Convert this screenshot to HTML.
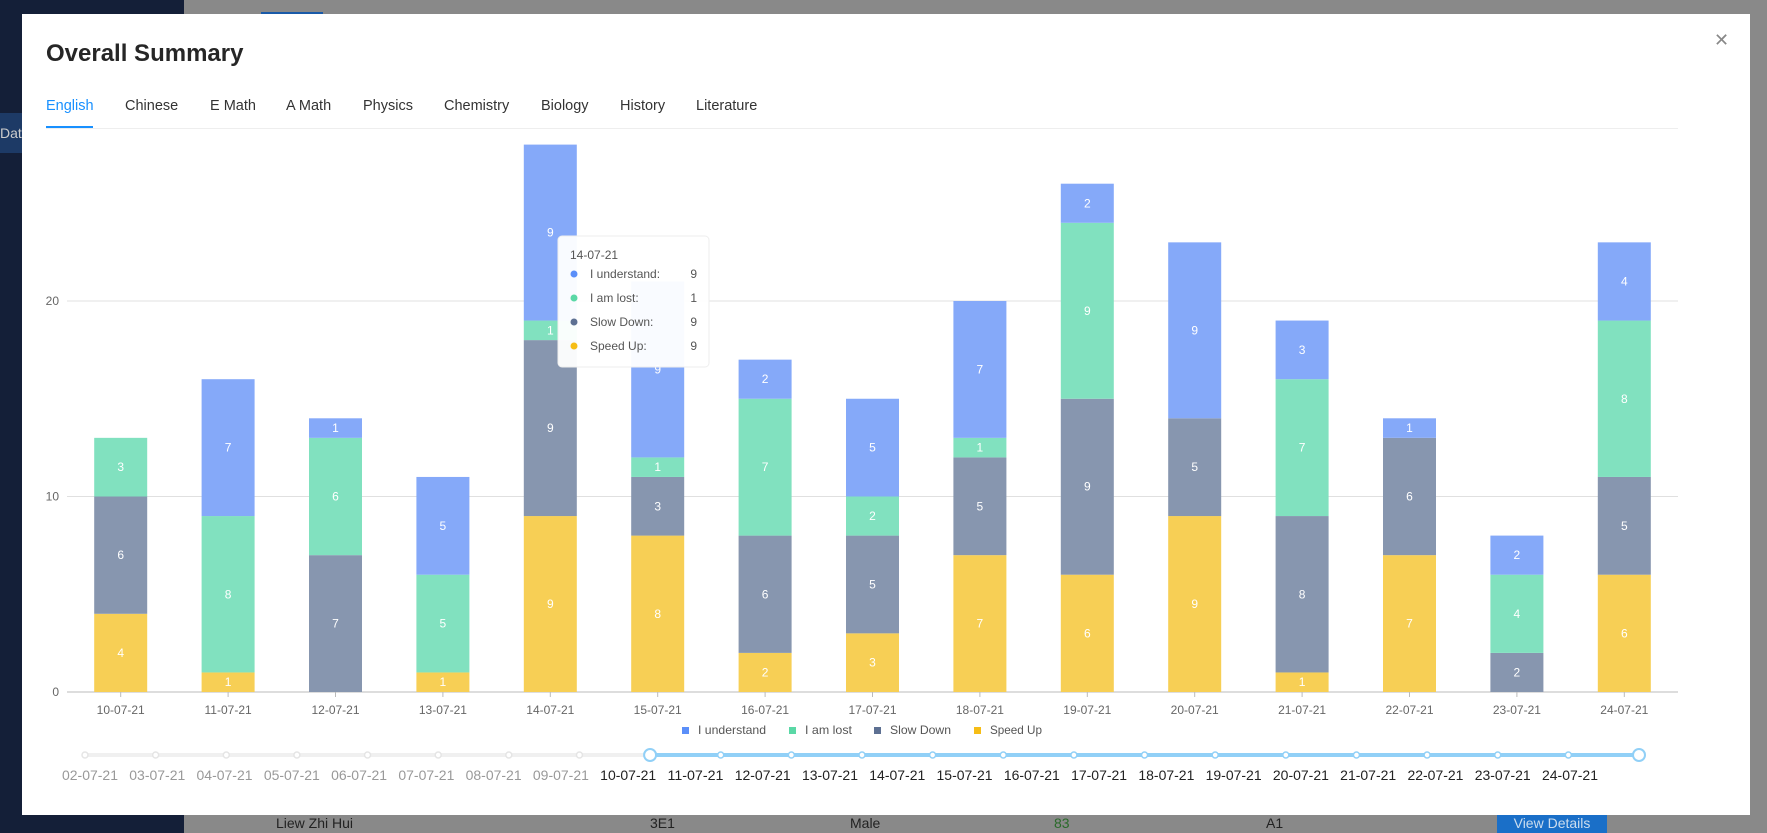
<!DOCTYPE html>
<html><head><meta charset="utf-8"><style>
body{margin:0;width:1767px;height:833px;overflow:hidden;background:#898989;font-family:"Liberation Sans",sans-serif;position:relative}
.abs{position:absolute}
</style></head><body>
<div class="abs" style="left:0;top:0;width:184px;height:833px;background:#141f38"></div>
<div class="abs" style="left:0;top:113px;width:22px;height:40px;background:#1d3a66;color:#ccc;font-size:14px;line-height:40px">Dat</div>
<div class="abs" style="left:261px;top:12px;width:62px;height:4px;background:#1a5aa8"></div>
<div class="abs" style="left:184px;top:815px;width:1583px;height:18px;color:#222;font-size:14px">
<span class="abs" style="left:92px;top:0">Liew Zhi Hui</span><span class="abs" style="left:466px">3E1</span><span class="abs" style="left:666px">Male</span><span class="abs" style="left:870px;color:#2a6a2a">83</span><span class="abs" style="left:1082px">A1</span>
<span class="abs" style="left:1313px;top:0;width:110px;height:18px;background:#1a6fc8;color:#cde;text-align:center">View Details</span></div>
<div class="abs" style="left:22px;top:14px;width:1728px;height:801px;background:#fff"></div>
<div class="abs" style="left:46px;top:40px;font-size:24px;font-weight:bold;color:#262626">Overall Summary</div>
<div class="abs" style="left:1714px;top:30px;font-size:18px;color:#888">✕</div>
<div class="abs" style="left:46px;top:128px;width:1632px;height:1px;background:#eee"></div>
<div class="abs" style="left:46px;top:126px;width:47px;height:2px;background:#1890ff"></div>
<div class="abs" style="left:46px;top:98px;font-size:14.5px;color:#1890ff">English</div>
<div class="abs" style="left:125px;top:98px;font-size:14.5px;color:#333">Chinese</div>
<div class="abs" style="left:210px;top:98px;font-size:14.5px;color:#333">E Math</div>
<div class="abs" style="left:286px;top:98px;font-size:14.5px;color:#333">A Math</div>
<div class="abs" style="left:363px;top:98px;font-size:14.5px;color:#333">Physics</div>
<div class="abs" style="left:444px;top:98px;font-size:14.5px;color:#333">Chemistry</div>
<div class="abs" style="left:541px;top:98px;font-size:14.5px;color:#333">Biology</div>
<div class="abs" style="left:620px;top:98px;font-size:14.5px;color:#333">History</div>
<div class="abs" style="left:696px;top:98px;font-size:14.5px;color:#333">Literature</div>
<svg id="chart" class="abs" style="left:0;top:0" width="1767" height="833"></svg>
<script>
const categories=["10-07-21","11-07-21","12-07-21","13-07-21","14-07-21","15-07-21","16-07-21","17-07-21","18-07-21","19-07-21","20-07-21","21-07-21","22-07-21","23-07-21","24-07-21"];
const speedUp=[4,1,0,1,9,8,2,3,7,6,9,1,7,0,6];
const slowDown=[6,0,7,0,9,3,6,5,5,9,5,8,6,2,5];
const iAmLost=[3,8,6,5,1,1,7,2,1,9,0,7,0,4,8];
const iUnderstand=[0,7,1,5,9,9,2,5,7,2,9,3,1,2,4];
const yTicks=[0,10,20];
const sliderDates=["02-07-21","03-07-21","04-07-21","05-07-21","06-07-21","07-07-21","08-07-21","09-07-21","10-07-21","11-07-21","12-07-21","13-07-21","14-07-21","15-07-21","16-07-21","17-07-21","18-07-21","19-07-21","20-07-21","21-07-21","22-07-21","23-07-21","24-07-21"];
const seriesNames=["I understand","I am lost","Slow Down","Speed Up"];
const NS="http://www.w3.org/2000/svg",svg=document.getElementById("chart");
function el(t,a,p){const e=document.createElementNS(NS,t);for(const k in a)e.setAttribute(k,a[k]);(p||svg).appendChild(e);return e;}
const L=67,R=1678,Y0=692,PER=19.55;
const y=v=>Y0-v*PER;
const step=(R-L)/categories.length;
const x=i=>L+step*(i+0.5);
const BW=53;
yTicks.forEach(t=>{
 const g=el("line",{x1:L,x2:R,y1:y(t),y2:y(t),stroke:t?"#e0e0e0":"#bbb"});
 
 
 const tx=el("text",{x:59,y:y(t)+4,"text-anchor":"end","font-size":12,fill:"#666"});tx.textContent=t;
 
 
});
const stack=[[speedUp,"#f7cf55"],[slowDown,"#8796af"],[iAmLost,"#81e1bf"],[iUnderstand,"#85a9f9"]];
categories.forEach((c,i)=>{
 let base=0;
 stack.forEach(([arr,col])=>{
  const v=arr[i];
  if(v>0){
   const r=el("rect",{x:x(i)-BW/2,y:y(base+v),width:BW,height:v*PER,fill:col});
   
   
   const t=el("text",{x:x(i),y:y(base+v/2)+4,"text-anchor":"middle","font-size":12,fill:"#fff"});t.textContent=v;
   
   
  }
  base+=v;
 });
 el("line",{x1:x(i),x2:x(i),y1:Y0,y2:Y0+5,stroke:"#bbb"});
 const lt=el("text",{x:x(i),y:714,"text-anchor":"middle","font-size":12,fill:"#666"});lt.textContent=c;
 
 
});
const legendCols=["#5b8ff9","#5ad8a6","#5d7092","#f6bd16"];
const lx=[682,789,874,974];
const lw=[68,47,61,52];
seriesNames.forEach((n,k)=>{
 const g=el("g",{});
 
 
 el("rect",{x:lx[k],y:727,width:7,height:7,fill:legendCols[k]},g);
 const t=el("text",{x:lx[k]+16,y:734,"font-size":12,fill:"#555",textLength:lw[k],lengthAdjust:"spacingAndGlyphs"},g);t.textContent=n;
});
// slider
const SX0=85,SX1=1639,sstep=(SX1-SX0)/(sliderDates.length-1);
const LX0=90,LX1=1570,lstep=(LX1-LX0)/(sliderDates.length-1);
const selStart=8,selEnd=22;
el("line",{x1:SX0,x2:SX1,y1:755,y2:755,stroke:"#f0f0f0","stroke-width":4});
const sl=el("line",{x1:SX0+selStart*sstep,x2:SX0+selEnd*sstep,y1:755,y2:755,stroke:"#91d0f7","stroke-width":4});


sliderDates.forEach((d,j)=>{
 const sx=SX0+j*sstep,inS=j>=selStart&&j<=selEnd,h=j===selStart||j===selEnd;
 const c=el("circle",{cx:sx,cy:755,r:h?6:3,fill:"#fff",stroke:inS?"#91d0f7":"#e5e5e5","stroke-width":h?2:1.5});
 
 
 const t=el("text",{x:LX0+j*lstep,y:780,"text-anchor":"middle","font-size":14,fill:inS?"#222":"#999",textLength:56,lengthAdjust:"spacingAndGlyphs"});t.textContent=d;
 
 
});
// tooltip
const ti=4;
const tg=el("g",{});


el("rect",{x:558,y:236,width:151,height:131,rx:4,fill:"#fff","fill-opacity":0.95,stroke:"#eee"},tg);
const tt=el("text",{x:570,y:259,"font-size":12,fill:"#555"},tg);tt.textContent=categories[ti];
const tvals=[iUnderstand[ti],iAmLost[ti],slowDown[ti],speedUp[ti]];
seriesNames.forEach((n,k)=>{
 const yy=278+k*24;
 el("circle",{cx:574,cy:yy-4,r:3.5,fill:legendCols[k]},tg);
 const a=el("text",{x:590,y:yy,"font-size":12,fill:"#555"},tg);a.textContent=n+":";
 const b=el("text",{x:697,y:yy,"font-size":12,fill:"#555","text-anchor":"end"},tg);b.textContent=tvals[k];
});
</script>
</body></html>
